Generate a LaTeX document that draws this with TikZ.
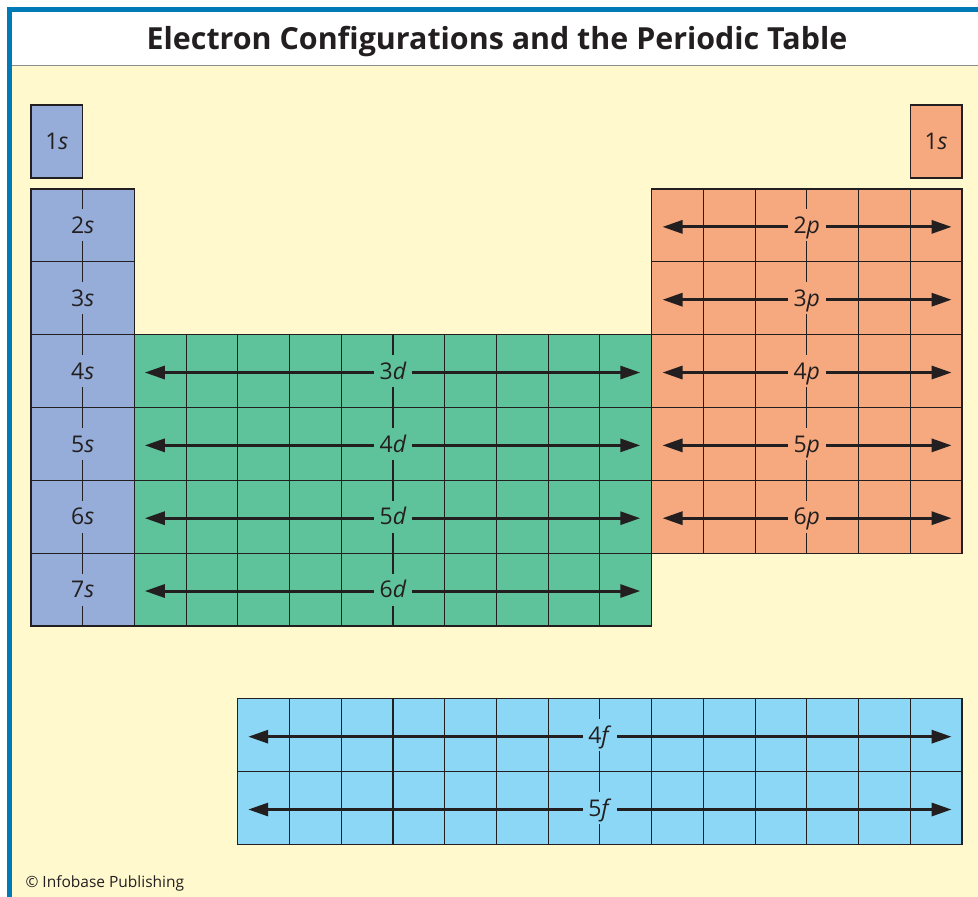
\documentclass[tikz,border=0pt]{standalone}
\usepackage{fontspec}
\setmainfont{Open Sans}
\usetikzlibrary{arrows.meta}
\definecolor{frameblue}{HTML}{0079B7}
\definecolor{paper}{HTML}{FFF9CD}
\definecolor{sblue}{HTML}{95ADD8}
\definecolor{dgreen}{HTML}{5EC39A}
\definecolor{porange}{HTML}{F6A87E}
\definecolor{fcyan}{HTML}{8BD7F5}
\definecolor{ink}{HTML}{231F20}

\begin{document}
\begin{tikzpicture}[
		x=1pt,
		y=-1pt,
		cellgrid/.style={draw=ink,line width=1.1pt},
		orbarrow/.style={{Triangle[length=20pt,width=13pt]}-{Triangle[length=20pt,width=13pt]},line width=3pt,draw=ink},
		orblabel/.style={font=\fontsize{23}{23}\selectfont,text=ink,inner xsep=5.5pt,inner ysep=0pt,minimum height=32pt,text height=16.5pt,text depth=0pt},
		titletext/.style={font=\bfseries\fontsize{30.4}{31}\selectfont,text=ink,anchor=base},
		credit/.style={font=\fontsize{15.5}{16}\selectfont,text=ink,anchor=base west}
	]
	
	\useasboundingbox (0,0) rectangle (978,897);
	
	% Frame and title bar
	\fill[white] (0,0) rectangle (978,897);
	\fill[paper] (12,66) rectangle (978,897);
	\fill[frameblue] (7,7) rectangle (978,12);
	\fill[frameblue] (7,7) rectangle (12,897);
	\draw[black!45,line width=1pt] (12,65.5) -- (978,65.5);
	
	% Title
	\node[titletext] (title) at (497,49) {Electron Configurations and the Periodic Table};
	
	% Table, in cell units
	\begin{scope}[shift={(31,189)},x=51.72pt,y=-72.83pt]
		
		% Blocks
		\fill[sblue] (0,-1.153) rectangle (1,-0.151);
		\fill[porange] (17,-1.153) rectangle (18,-0.151);
		\fill[sblue] (0,0) rectangle (2,6);
		\fill[dgreen] (2,2) rectangle (12,6);
		\fill[porange] (12,0) rectangle (18,5);
		\fill[fcyan] (4,7) rectangle (18,9);
		
		% Cell lines
		\foreach \c in {1} \draw[cellgrid] (\c,0) -- (\c,6);
		\foreach \r in {1,...,5} \draw[cellgrid] (0,\r) -- (2,\r);
		\foreach \c in {3,...,11} \draw[cellgrid] (\c,2) -- (\c,6);
		\foreach \r in {3,...,5} \draw[cellgrid] (2,\r) -- (12,\r);
		\foreach \c in {13,...,17} \draw[cellgrid] (\c,0) -- (\c,5);
		\foreach \r in {1,...,4} \draw[cellgrid] (12,\r) -- (18,\r);
		\foreach \c in {5,...,17} \draw[cellgrid] (\c,7) -- (\c,9);
		\foreach \r in {8} \draw[cellgrid] (4,\r) -- (18,\r);
		
		% Block outlines
		\draw[cellgrid] (0,-1.153) rectangle (1,-0.151);
		\draw[cellgrid] (17,-1.153) rectangle (18,-0.151);
		\draw[cellgrid] (0,0) rectangle (2,6);
		\draw[cellgrid] (2,2) rectangle (12,6);
		\draw[cellgrid] (12,0) rectangle (18,5);
		\draw[cellgrid] (4,7) rectangle (18,9);
		
		% 1s
		\node[orblabel,fill=sblue] (s1) at (0.5,-0.652) {1\textit{s}};
		\node[orblabel,fill=porange] (he1) at (17.5,-0.652) {1\textit{s}};
		
		% s block
		\foreach \n [count=\r from 0] in {2,...,7}
		\node[orblabel,fill=sblue] (s\n) at (1,\r+0.5) {\n\textit{s}};
		
		% d block
		\foreach \n [count=\r from 2] in {3,...,6} {
			\coordinate (d\n L) at (2.2,\r+0.52);
			\coordinate (d\n R) at (11.78,\r+0.52);
			\draw[orbarrow] (d\n L) -- (d\n R);
			\node[orblabel,fill=dgreen] (d\n) at (7,\r+0.5) {\n\textit{d}};
		}
		
		% p block
		\foreach \n [count=\r from 0] in {2,...,6} {
			\coordinate (p\n L) at (12.21,\r+0.52);
			\coordinate (p\n R) at (17.8,\r+0.52);
			\draw[orbarrow] (p\n L) -- (p\n R);
			\node[orblabel,fill=porange] (p\n) at (15,\r+0.5) {\n\textit{p}};
		}
		
		% f block
		\foreach \n [count=\r from 7] in {4,5} {
			\coordinate (f\n L) at (4.2,\r+0.52);
			\coordinate (f\n R) at (17.8,\r+0.52);
			\draw[orbarrow] (f\n L) -- (f\n R);
			\node[orblabel,fill=fcyan] (f\n) at (11,\r+0.5) {\n\textit{f}};
		}
	\end{scope}
	
	% Credit line
	\node[credit] (source) at (22,887) {© Infobase Publishing};
	
\end{tikzpicture}
\end{document}
